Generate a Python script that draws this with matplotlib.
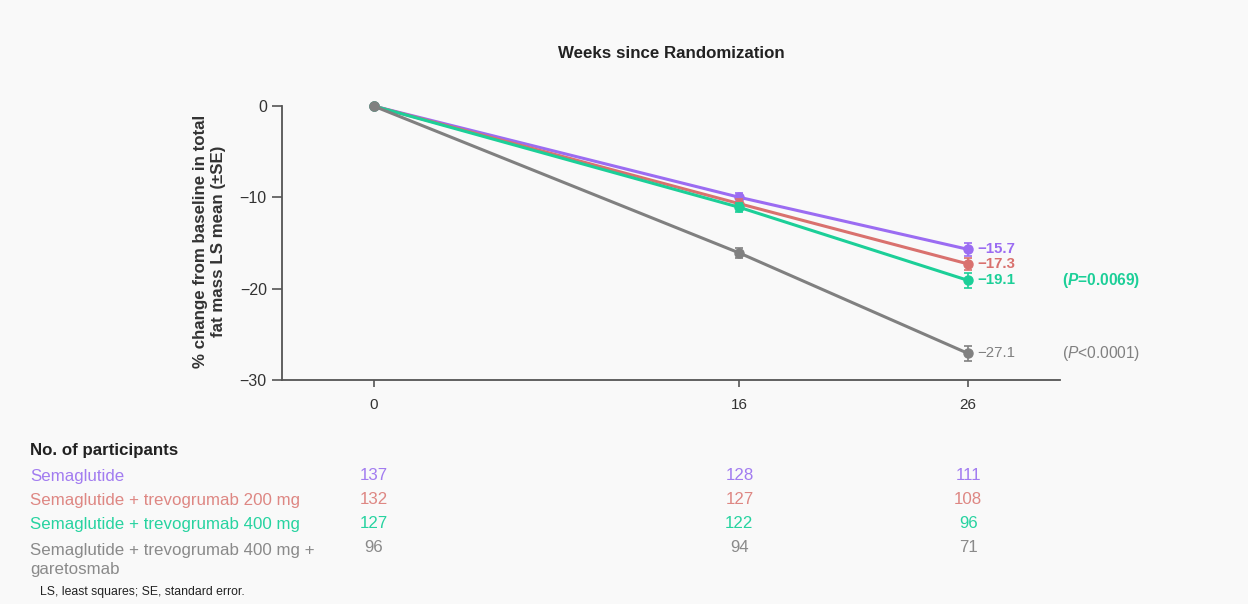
import numpy as np
import matplotlib.pyplot as plt

plt.rcParams['font.family'] = ['Liberation Sans', 'DejaVu Sans']
plt.rcParams['mathtext.fontset'] = 'custom'
plt.rcParams['mathtext.rm'] = 'Liberation Sans'
plt.rcParams['mathtext.it'] = 'Liberation Sans:italic'
plt.rcParams['mathtext.bf'] = 'Liberation Sans:bold'
plt.rcParams['mathtext.bfit'] = 'Liberation Sans:italic:bold'

weeks = [0, 16, 26]
groups = ['Semaglutide',
          'Semaglutide + trevogrumab 200 mg',
          'Semaglutide + trevogrumab 400 mg',
          'Semaglutide + trevogrumab 400 mg +\ngaretosmab']
means = [[0, -10.0, -15.7],
         [0, -10.7, -17.3],
         [0, -11.1, -19.1],
         [0, -16.1, -27.1]]
se = [[0, 0.5, 0.7],
      [0, 0.5, 0.7],
      [0, 0.5, 0.8],
      [0, 0.6, 0.8]]
n_participants = [[137, 128, 111],
                  [132, 127, 108],
                  [127, 122, 96],
                  [96, 94, 71]]
p_labels = [None, None, r'($\mathbfit{P}$=0.0069)', r'($\mathit{P}$<0.0001)']

colors = ['#9b6cf2', '#d9716e', '#1ccf98', '#808080']
text_colors = ['#a27cf0', '#de8783', '#27d3a0', '#8a8a8a']
bg = '#f9f9f9'

fig = plt.figure(figsize=(12.48, 6.04), dpi=100, facecolor=bg)
ax = fig.add_axes([0.226, 0.371, 0.623, 0.4535], facecolor=bg)

# gray drawn last so its marker sits on top at the origin
for i in [0, 1, 2, 3]:
    ax.errorbar(weeks, means[i], yerr=se[i], color=colors[i], lw=2.2,
                marker='o', ms=6.5, capsize=3, elinewidth=1.2, capthick=1.2,
                clip_on=False, zorder=3 + i * 0.1 if i < 3 else 3.5)
    ax.text(26.4, means[i][-1], '\u2212%.1f' % abs(means[i][-1]),
            color=colors[i], fontsize=10.8, va='center', ha='left',
            fontweight='bold' if i < 3 else 'normal')
    if p_labels[i]:
        ax.text(30.1, means[i][-1], p_labels[i], color=colors[i], fontsize=11.2,
                va='center', ha='left', fontweight='bold' if i == 2 else 'normal')

ax.set_xlim(-4, 30)
ax.set_ylim(-30, 0)
ax.set_xticks(weeks)
ax.set_yticks([0, -10, -20, -30])
ax.set_yticklabels(['0', '\u221210', '\u221220', '\u221230'])
for s in ['top', 'right']:
    ax.spines[s].set_visible(False)
for s in ['left', 'bottom']:
    ax.spines[s].set_color('#555555')
    ax.spines[s].set_linewidth(1.3)
ax.tick_params(axis='y', length=7, width=1.2, color='#555555', labelsize=11.5,
               labelcolor='#333333', pad=4)
ax.tick_params(axis='x', length=5, width=1.2, color='#555555', labelsize=11,
               labelcolor='#333333', pad=8)

fig.text(0.538, 0.912, 'Weeks since Randomization', ha='center', va='center',
         fontsize=12.2, fontweight='bold', color='#222222')
fig.text(0.168, 0.6, '% change from baseline in total\nfat mass LS mean (\u00b1SE)',
         rotation=90, ha='center', va='center', fontsize=12.2, fontweight='bold',
         color='#333333', linespacing=1.2)

# participant table under the x axis
fig.text(0.024, 1 - 451 / 604, 'No. of participants', fontsize=12.2,
         fontweight='bold', va='center', color='#222222')
row_y = [476, 500, 524, 548]
for i in range(4):
    fy = 1 - row_y[i] / 604
    if i == 3:
        fig.text(0.024, 1 - 560 / 604, groups[i], fontsize=12.2,
                 color=text_colors[i], va='center', linespacing=1.35)
    else:
        fig.text(0.024, fy, groups[i], fontsize=12.2, color=text_colors[i],
                 va='center')
    for w, n in zip(weeks, n_participants[i]):
        x_fig = fig.transFigure.inverted().transform(
            ax.transData.transform((w, 0)))[0]
        fig.text(x_fig, fy, str(n), fontsize=12.2, color=text_colors[i],
                 ha='center', va='center')

fig.text(0.032, 1 - 592 / 604, 'LS, least squares; SE, standard error.',
         fontsize=8.8, va='center', color='#222222')

fig.savefig('out.png', dpi=100, facecolor=bg)
